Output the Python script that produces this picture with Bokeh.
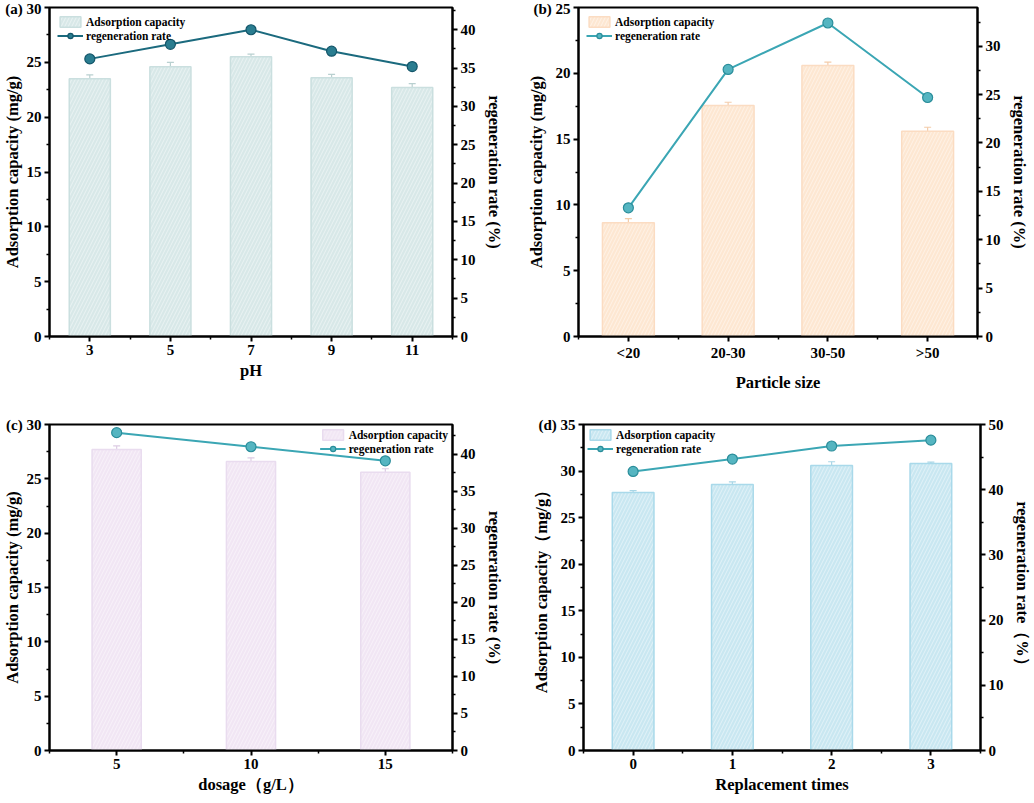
from bokeh.plotting import figure
from bokeh.models import (Range1d, LinearAxis, FixedTicker, ColumnDataSource, Whisker,
                          TeeHead, Legend, LegendItem)
from bokeh.layouts import row, column
from bokeh.embed import file_html
from bokeh.resources import INLINE

FONT = "Liberation Serif"

# ---------------- data ----------------
# (a) pH
ph_values = [3, 5, 7, 9, 11]
ph_capacity = [23.5, 24.6, 25.5, 23.6, 22.7]
ph_error = [0.35, 0.4, 0.25, 0.3, 0.35]
ph_rate = [36.2, 38.1, 40.0, 37.2, 35.2]

# (b) particle size
size_pos = [1, 2, 3, 4]
size_labels = ["<20", "20-30", "30-50", ">50"]
size_capacity = [8.65, 17.55, 20.6, 15.6]
size_error = [0.3, 0.25, 0.25, 0.3]
size_rate = [13.3, 27.6, 32.4, 24.7]

# (c) dosage
dosage_values = [5, 10, 15]
dosage_capacity = [27.7, 26.6, 25.6]
dosage_error = [0.33, 0.33, 0.33]
dosage_rate = [42.9, 41.0, 39.1]

# (d) replacement times
times_values = [0, 1, 2, 3]
times_capacity = [27.7, 28.55, 30.6, 30.8]
times_error = [0.2, 0.3, 0.4, 0.17]
times_rate = [42.8, 44.7, 46.7, 47.6]

# panel tags
tags = ["(a)", "(b)", "(c)", "(d)"]

# axis ticks
a_xticks, a_xminor = [3, 5, 7, 9, 11], [2, 4, 6, 8, 10, 12]
b_xminor = [0.5, 1.5, 2.5, 3.5, 4.5]
c_xticks, c_xminor = [5, 10, 15], [2.5, 7.5, 12.5, 17.5]
d_xticks, d_xminor = [0, 1, 2, 3], [-0.5, 0.5, 1.5, 2.5, 3.5]

ticks_0_30 = [0, 5, 10, 15, 20, 25, 30]
minor_0_30 = [2.5, 7.5, 12.5, 17.5, 22.5, 27.5, 32.5]
ticks_0_25 = [0, 5, 10, 15, 20, 25]
minor_0_25 = [2.5, 7.5, 12.5, 17.5, 22.5]
ticks_0_35 = [0, 5, 10, 15, 20, 25, 30, 35]
minor_0_35 = [2.5, 7.5, 12.5, 17.5, 22.5, 27.5, 32.5]
ticks_0_40 = [0, 5, 10, 15, 20, 25, 30, 35, 40]
minor_0_40 = [2.5, 7.5, 12.5, 17.5, 22.5, 27.5, 32.5, 37.5, 42.5]
ticks_0_50 = [0, 10, 20, 30, 40, 50]
minor_0_50 = [5, 15, 25, 35, 45]


def style_axis(ax, ticks, minor, overrides=None, label_standoff=3):
    ax.ticker = FixedTicker(ticks=ticks, minor_ticks=minor)
    if overrides:
        ax.major_label_overrides = overrides
    ax.axis_line_width = 2
    ax.axis_line_color = "black"
    ax.major_tick_line_width = 2
    ax.minor_tick_line_width = 1.5
    ax.major_tick_in = 0
    ax.major_tick_out = 5
    ax.minor_tick_in = 0
    ax.minor_tick_out = 3
    ax.major_label_text_font = FONT
    ax.major_label_text_font_style = "bold"
    ax.major_label_text_font_size = "15px"
    ax.major_label_text_color = "black"
    ax.axis_label_text_font = FONT
    ax.axis_label_text_font_style = "bold"
    ax.axis_label_text_font_size = "16.5px"
    ax.axis_label_text_color = "black"
    ax.major_label_standoff = 3
    ax.axis_label_standoff = label_standoff


def panel(tag, tag_shift, x, cap, err, rate, xrange, xticks, xminor, xlabel, ylabel, y2label,
          lmax, lticks, lminor, rmax, rticks, rminor, bar_width,
          bar_fill, bar_line, err_color, line_color, mk_fill, mk_line,
          width, height, borders, legend_loc, legend_margin, overrides=None,
          xlabel_standoff=3):
    left, right, top, bottom = borders
    p = figure(width=width, height=height, output_backend="svg", toolbar_location=None,
               x_range=Range1d(*xrange), y_range=Range1d(0, lmax),
               min_border_left=left, min_border_right=right,
               min_border_top=top, min_border_bottom=bottom)
    p.extra_y_ranges = {"rate": Range1d(0, rmax)}
    p.xgrid.visible = False
    p.ygrid.visible = False
    p.outline_line_color = "black"
    p.outline_line_width = 2
    p.background_fill_color = "white"
    p.border_fill_color = "white"

    style_axis(p.xaxis[0], xticks, xminor, overrides, xlabel_standoff)
    p.xaxis[0].axis_label = xlabel
    # panel tag is written in front of the top tick label of the left axis;
    # the axis-label standoff is reduced by the tag width so the title stays in place
    top_tick = lticks[-1]
    style_axis(p.yaxis[0], lticks, lminor, {top_tick: f"{tag} {top_tick}"},
               label_standoff=6 - tag_shift)
    p.yaxis[0].axis_label = ylabel

    ax2 = LinearAxis(y_range_name="rate", axis_label=y2label)
    style_axis(ax2, rticks, rminor, label_standoff=6)
    p.add_layout(ax2, "right")

    upper = [c + e for c, e in zip(cap, err)]
    src = ColumnDataSource(data=dict(x=x, top=cap, upper=upper))
    bars = p.vbar(x="x", top="top", width=bar_width, source=src,
                  fill_color=bar_fill, line_color=bar_line, line_width=1.5,
                  hatch_pattern="/", hatch_color="white", hatch_alpha=0.45,
                  hatch_scale=7, hatch_weight=1)
    wh = Whisker(source=src, base="x", upper="upper", lower="top",
                 line_color=err_color, line_width=1.2,
                 upper_head=TeeHead(size=7, line_color=err_color, line_width=1.2),
                 lower_head=None)
    p.add_layout(wh)

    ln = p.line(x, rate, y_range_name="rate", line_color=line_color, line_width=2)
    sc = p.scatter(x, rate, y_range_name="rate", marker="circle", size=10,
                   fill_color=mk_fill, line_color=mk_line, line_width=1.2)

    legend = Legend(items=[LegendItem(label="Adsorption capacity", renderers=[bars]),
                           LegendItem(label="regeneration rate", renderers=[ln, sc])],
                    location=legend_loc)
    legend.label_text_font = FONT
    legend.label_text_font_style = "bold"
    legend.label_text_font_size = "11.5px"
    legend.label_text_color = "black"
    legend.background_fill_alpha = 0
    legend.border_line_alpha = 0
    legend.glyph_width = 26
    legend.glyph_height = 13
    legend.label_height = 12
    legend.label_standoff = 3
    legend.spacing = 1
    legend.padding = 3
    legend.margin = legend_margin
    p.add_layout(legend)
    return p


pa = panel(tags[0], 26, ph_values, ph_capacity, ph_error, ph_rate, (2, 12), a_xticks, a_xminor,
           "pH", "Adsorption capacity (mg/g)", "regeneration rate (%)",
           30, ticks_0_30, minor_0_30, 42.9, ticks_0_40, minor_0_40, 1.02,
           "#d8e8e8", "#cadfdf", "#b9d0d0", "#1b6a7e", "#2a7d90", "#14566a",
           515, 394, (44, 63, 7, 54), "top_left", 5)

pb = panel(tags[1], 22, size_pos, size_capacity, size_error, size_rate, (0.5, 4.5), size_pos,
           b_xminor, "Particle size", "Adsorption capacity (mg/g)", "regeneration rate (%)",
           25, ticks_0_25, minor_0_25, 34.0, ticks_0_30, minor_0_30, 0.52,
           "#fde7d2", "#fbdcc2", "#f3cba8", "#3ba6b4", "#55b5c1", "#2a8d9a",
           519, 394, (63, 57, 7, 54), "top_left", 5,
           overrides={1: size_labels[0], 2: size_labels[1], 3: size_labels[2], 4: size_labels[3]},
           xlabel_standoff=9)

pc = panel(tags[2], 25, dosage_values, dosage_capacity, dosage_error, dosage_rate, (2.5, 17.5),
           c_xticks, c_xminor,
           "dosage（g/L）", "Adsorption capacity (mg/g)", "regeneration rate (%)",
           30, ticks_0_30, minor_0_30, 44.0, ticks_0_40, minor_0_40, 1.83,
           "#f1e6f4", "#e9dcef", "#dccbe3", "#3ba6b4", "#55b5c1", "#2a8d9a",
           515, 408, (44, 63, 30, 52), "top_right", 1)

pd_ = panel(tags[3], 22, times_values, times_capacity, times_error, times_rate, (-0.5, 3.5),
            d_xticks, d_xminor,
            "Replacement times", "Adsorption capacity（mg/g）", "regeneration rate（%）",
            35, ticks_0_35, minor_0_35, 50, ticks_0_50, minor_0_50, 0.42,
            "#c9e7f1", "#a9d9ea", "#a9d6e6", "#3ba6b4", "#55b5c1", "#2a8d9a",
            519, 408, (68, 47, 30, 52), "top_left", 1)

layout = column(row(pa, pb), row(pc, pd_))

with open("out.html", "w") as f:
    f.write(file_html(layout, INLINE))
